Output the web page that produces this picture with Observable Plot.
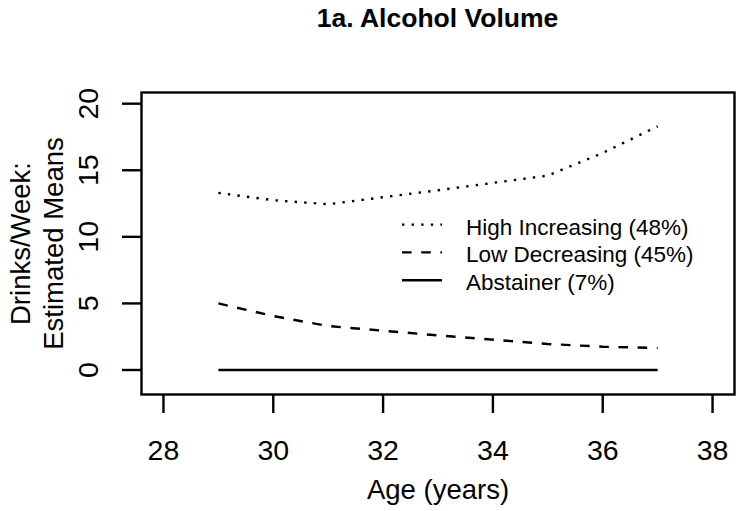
<!DOCTYPE html>
<html><head><meta charset="utf-8">
<script src="https://cdn.jsdelivr.net/npm/d3@7"></script>
<script src="https://cdn.jsdelivr.net/npm/@observablehq/plot@0.6"></script>
<style>
body{margin:0;background:#fff;font-family:"Liberation Sans",Arial,Helvetica,sans-serif;}
#title{margin-left:141px;width:593px;height:38px;line-height:36px;text-align:center;font-weight:bold;font-size:26.5px;color:#000;}
</style></head><body>
<div id="title">1a. Alcohol Volume</div>
<div id="chart"></div>
<script>
// ---- data ----
const ages = [29, 30, 31, 33, 35, 36, 37];
const highIncreasing = [13.3, 12.75, 12.45, 13.5, 14.6, 16.3, 18.3];
const lowDecreasing  = [5.0, 4.05, 3.3, 2.6, 1.95, 1.75, 1.65];
const abstainer      = [0, 0, 0, 0, 0, 0, 0];
const seriesLabels = ["High Increasing (48%)", "Low Decreasing (45%)", "Abstainer (7%)"];
const xTicks = [28, 30, 32, 34, 36, 38];
const yTicks = [0, 5, 10, 15, 20];
const xLabel = "Age (years)";
const yLabel = "Drinks/Week:\nEstimated Means";

// ---- build tables ----
const toRows = vals => ages.map((a, i) => ({age: a, value: vals[i]}));
const seriesData = [toRows(highIncreasing), toRows(lowDecreasing), toRows(abstainer)];

// ---- styles ----
const LW = 2.4;
const dashes = [`${LW},${LW * 3}`, `${LW * 4},${LW * 4}`, null];
const FONT = '"Liberation Sans",Arial,Helvetica,sans-serif';

function legendMark(index, scales, values, dims) {
  const g = d3.create("svg:g")
    .attr("font-family", FONT).attr("font-size", 22.5).attr("fill", "#000")
    .attr("text-anchor", "start");
  const left = dims.marginLeft;
  const top = dims.marginTop;
  seriesLabels.forEach((lab, i) => {
    const base = top + 142.6 + i * 27.8;
    const ly = base - 10;
    const ln = g.append("line")
      .attr("x1", left + 261).attr("x2", left + 301)
      .attr("y1", ly).attr("y2", ly)
      .attr("stroke", "#000").attr("stroke-width", LW);
    if (dashes[i]) ln.attr("stroke-dasharray", dashes[i]);
    g.append("text").attr("x", left + 325).attr("y", base)
      .attr("text-anchor", "start").text(lab);
  });
  return g.node();
}

const chart = Plot.plot({
  width: 744,
  height: 473,
  marginLeft: 141,
  marginRight: 10,
  marginTop: 54,
  marginBottom: 117,
  style: {fontFamily: FONT, color: "#000", background: "#fff"},
  x: {domain: [27.6, 38.4]},
  y: {domain: [-1.84, 20.84]},
  marks: [
    Plot.frame({stroke: "#000", strokeWidth: LW}),
    Plot.axisX({ticks: xTicks, tickSize: 19, tickPadding: 26, fontSize: 28.5, label: null, strokeWidth: LW, tickFormat: d => String(d)}),
    Plot.axisY({ticks: yTicks, tickSize: 19, tickPadding: 25, tickRotate: -90, fontSize: 28.5, label: null, strokeWidth: LW, tickFormat: d => String(d)}),
    ...seriesData.map((rows, i) => Plot.line(rows, {
      x: "age", y: "value", stroke: "#000", strokeWidth: LW,
      strokeDasharray: dashes[i] || undefined, strokeLinecap: "butt"
    })),
    Plot.text([xLabel], {frameAnchor: "bottom", dy: 104, lineAnchor: "bottom", fontSize: 27.5, fill: "#000"}),
    Plot.text([yLabel], {frameAnchor: "left", dx: -79, rotate: -90, textAnchor: "middle", lineAnchor: "bottom", lineHeight: 1.19, fontSize: 27.5, fill: "#000"}),
    legendMark
  ]
});
document.getElementById("chart").appendChild(chart);
</script>
</body></html>
